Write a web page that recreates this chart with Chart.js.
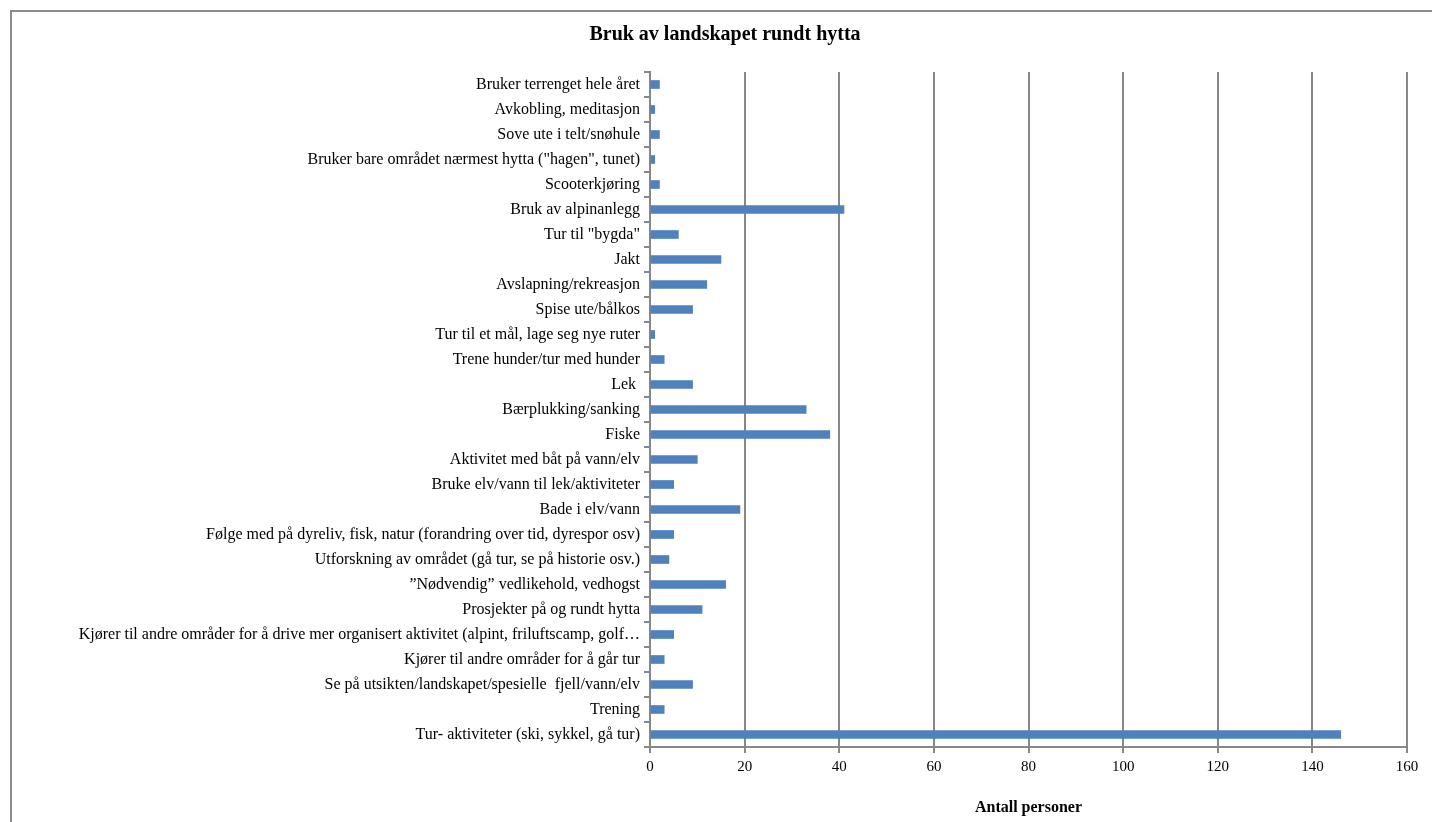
<!DOCTYPE html>
<html>
<head>
<meta charset="utf-8">
<script src="https://cdn.jsdelivr.net/npm/chart.js@4"></script>
<style>
  html, body { margin: 0; padding: 0; background: #fff; }
  #wrap { position: relative; width: 1432px; height: 822px; }
</style>
</head>
<body>
<div id="wrap"><canvas id="chart"></canvas></div>
<script>
// categories, top to bottom as they appear in the picture
const categories = [
  'Bruker terrenget hele året',
  'Avkobling, meditasjon',
  'Sove ute i telt/snøhule',
  'Bruker bare området nærmest hytta ("hagen", tunet)',
  'Scooterkjøring',
  'Bruk av alpinanlegg',
  'Tur til "bygda"',
  'Jakt',
  'Avslapning/rekreasjon',
  'Spise ute/bålkos',
  'Tur til et mål, lage seg nye ruter',
  'Trene hunder/tur med hunder',
  'Lek ',
  'Bærplukking/sanking',
  'Fiske',
  'Aktivitet med båt på vann/elv',
  'Bruke elv/vann til lek/aktiviteter',
  'Bade i elv/vann',
  'Følge med på dyreliv, fisk, natur (forandring over tid, dyrespor osv)',
  'Utforskning av området (gå tur, se på historie osv.)',
  '”Nødvendig” vedlikehold, vedhogst',
  'Prosjekter på og rundt hytta',
  'Kjører til andre områder for å drive mer organisert aktivitet (alpint, friluftscamp, golf…',
  'Kjører til andre områder for å går tur',
  'Se på utsikten/landskapet/spesielle  fjell/vann/elv',
  'Trening',
  'Tur- aktiviteter (ski, sykkel, gå tur)'
];

const antallPersoner = [2, 1, 2, 1, 2, 41, 6, 15, 12, 9, 1, 3, 9, 33, 38, 10, 5, 19, 5, 4, 16, 11, 5, 3, 9, 3, 146];

const xTicks = [0, 20, 40, 60, 80, 100, 120, 140, 160];

const chartTitle = 'Bruk av landskapet rundt hytta';
const xTitle = 'Antall personer';

const gridGray = '#878787';
const serif = "'Liberation Serif', 'Times New Roman', serif";

// outer frame of the chart (only left and top edges show in the picture)
const framePlugin = {
  id: 'frame',
  beforeDraw(chart) {
    const c = chart.ctx;
    c.save();
    c.fillStyle = '#fff';
    c.fillRect(0, 0, chart.width, chart.height);
    c.strokeStyle = '#8c8c8c';
    c.lineWidth = 2;
    c.strokeRect(11, 11, chart.width + 20, chart.height + 20);
    c.restore();
  }
};

new Chart(document.getElementById('chart'), {
  type: 'bar',
  data: {
    labels: categories,
    datasets: [{
      label: xTitle,
      data: antallPersoner,
      backgroundColor: '#4F81BD',
      borderWidth: 0,
      barThickness: 8
    }]
  },
  options: {
    indexAxis: 'y',
    responsive: true,
    maintainAspectRatio: false,
    animation: false,
    layout: { padding: { left: 43, right: 25, top: 0, bottom: 0 } },
    plugins: {
      legend: { display: false },
      tooltip: { enabled: false },
      title: {
        display: true,
        text: chartTitle,
        color: '#000',
        font: { family: serif, size: 20, weight: 'bold' },
        padding: { top: 23, bottom: 25 }
      }
    },
    scales: {
      x: {
        min: 0,
        max: 160,
        afterBuildTicks(scale) {
          scale.ticks = xTicks.map(v => ({ value: v }));
        },
        afterFit(scale) { scale.height = 75; },
        grid: {
          color: gridGray,
          lineWidth: 2,
          tickLength: 6,
          drawTicks: true
        },
        border: { display: true, color: gridGray, width: 2 },
        ticks: {
          color: '#000',
          padding: 5,
          font: { family: serif, size: 15 }
        },
        title: {
          display: true,
          text: xTitle,
          color: '#000',
          font: { family: serif, size: 16, weight: 'bold' },
          padding: { top: 10, bottom: 5 }
        }
      },
      y: {
        afterFit(scale) { scale.width = 607; },
        grid: {
          offset: true,
          drawOnChartArea: false,
          drawTicks: true,
          tickLength: 6,
          color: gridGray,
          lineWidth: 2
        },
        border: { display: true, color: gridGray, width: 2 },
        ticks: {
          color: '#000',
          padding: 4,
          autoSkip: false,
          font: { family: serif, size: 16 }
        }
      }
    }
  },
  plugins: [framePlugin]
});
</script>
</body>
</html>
